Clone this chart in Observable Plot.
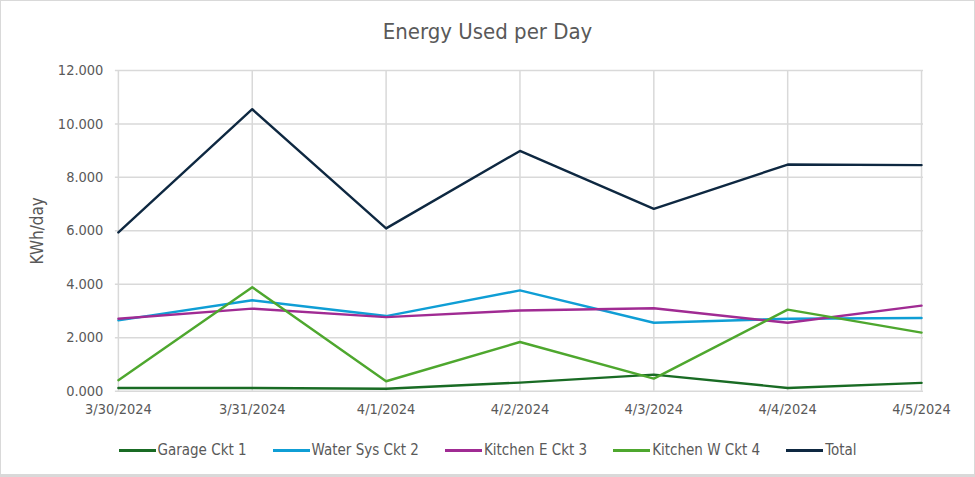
<!DOCTYPE html>
<html>
<head>
<meta charset="utf-8">
<script src="https://cdn.jsdelivr.net/npm/d3@7"></script>
<script src="https://cdn.jsdelivr.net/npm/@observablehq/plot@0.6"></script>
<style>
  html, body { margin: 0; padding: 0; background: #fff; }
  #wrap { position: relative; width: 975px; height: 477px; box-sizing: border-box; border: 1px solid #d9d9d9; border-bottom-width: 3px; overflow: hidden;
    font-family: "Liberation Sans Narrow", "DejaVu Sans Condensed", "Roboto", sans-serif; color: #595959; }
  #title { position: absolute; top: 17px; left: 0; width: 100%; text-align: center; font-size: 22px; line-height: 28px; }
  #chart { position: absolute; top: 54px; left: -1px; }
  #legend { position: absolute; top: 439px; left: 0; width: 100%; display: flex; justify-content: center; gap: 26px; font-size: 15px; line-height: 20px; }
  .item { display: flex; align-items: center; }
  .sw { display: inline-block; width: 37px; height: 3px; margin-right: 2px; }
</style>
</head>
<body>
<div id="wrap">
  <div id="title">Energy Used per Day</div>
  <div id="chart"></div>
  <div id="legend"></div>
</div>
<script>
const dates = ["3/30/2024", "3/31/2024", "4/1/2024", "4/2/2024", "4/3/2024", "4/4/2024", "4/5/2024"];
const seriesNames = ["Garage Ckt 1", "Water Sys Ckt 2", "Kitchen E Ckt 3", "Kitchen W Ckt 4", "Total"];
const seriesColors = ["#196B24", "#0F9ED5", "#A02B93", "#4EA72E", "#0E2841"];
const garage = [0.12, 0.12, 0.09, 0.32, 0.62, 0.12, 0.31];
const waterSys = [2.65, 3.40, 2.81, 3.77, 2.56, 2.71, 2.74];
const kitchenE = [2.71, 3.09, 2.77, 3.02, 3.10, 2.56, 3.20];
const kitchenW = [0.41, 3.89, 0.37, 1.84, 0.47, 3.05, 2.19];
const total = [5.94, 10.55, 6.09, 8.99, 6.82, 8.48, 8.46];
const yTicks = [0, 2, 4, 6, 8, 10, 12];

const seriesValues = [garage, waterSys, kitchenE, kitchenW, total];
const data = [];
seriesNames.forEach((name, i) => {
  dates.forEach((d, j) => data.push({series: name, date: d, value: seriesValues[i][j]}));
});

const font = '"Liberation Sans Narrow", "DejaVu Sans Condensed", "Roboto", sans-serif';

const chart = Plot.plot({
  width: 975,
  height: 386,
  marginLeft: 115,
  marginRight: 51,
  marginTop: 15,
  marginBottom: 50,
  style: { fontFamily: font, background: "transparent", overflow: "visible" },
  x: { type: "point", domain: dates, padding: 0, label: null },
  y: { domain: [0, 12], label: null },
  color: { domain: seriesNames, range: seriesColors },
  marks: [
    Plot.gridX(dates, { stroke: "#d9d9d9", strokeOpacity: 1, strokeWidth: 1.5 }),
    Plot.gridY(yTicks, { stroke: "#d9d9d9", strokeOpacity: 1, strokeWidth: 1.5 }),
    Plot.axisX(dates, { tickSize: 0, tickPadding: 13, fontSize: 14.5, fill: "#595959", label: null }),
    Plot.axisY(yTicks, { tickSize: 0, tickPadding: 12, fontSize: 14.5, fill: "#595959", tickFormat: d => d.toFixed(3), label: null }),
    Plot.text(["KWh/day"], { frameAnchor: "left", textAnchor: "middle", dx: -78, rotate: -90, fontSize: 17, fill: "#595959", text: d => d }),
    Plot.line(data, { x: "date", y: "value", z: "series", stroke: "series", strokeWidth: 2.4, curve: "linear" })
  ]
});
document.getElementById("chart").appendChild(chart);

const legend = document.getElementById("legend");
seriesNames.forEach((name, i) => {
  const item = document.createElement("div");
  item.className = "item";
  const sw = document.createElement("span");
  sw.className = "sw";
  sw.style.background = seriesColors[i];
  const t = document.createElement("span");
  t.textContent = name;
  item.appendChild(sw);
  item.appendChild(t);
  legend.appendChild(item);
});
</script>
</body>
</html>
